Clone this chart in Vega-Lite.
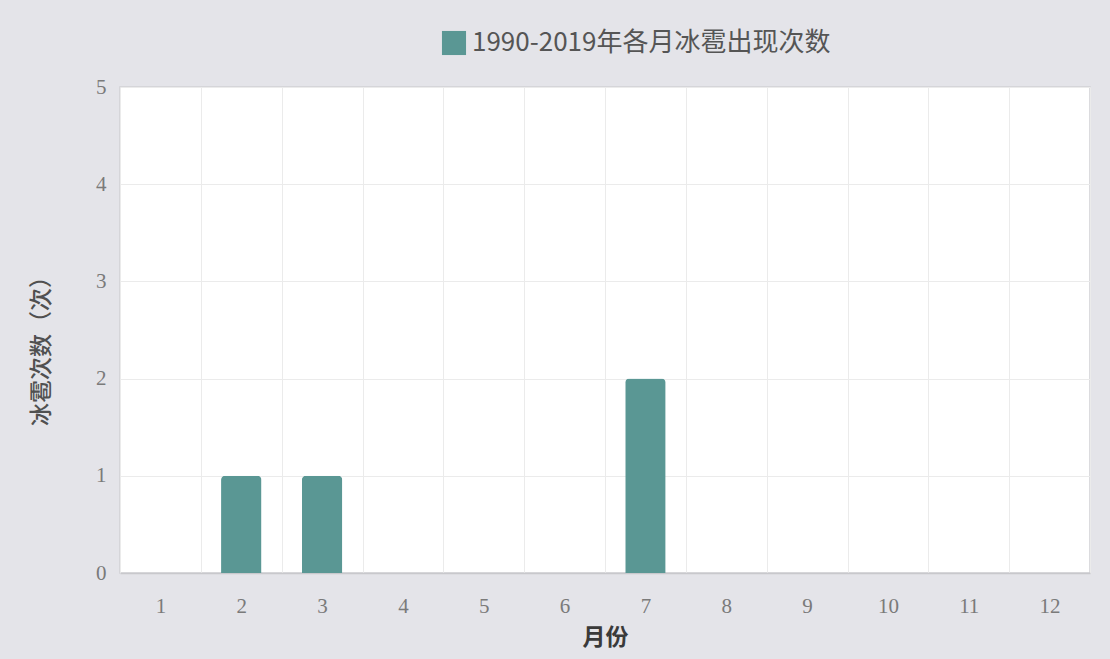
{
  "$schema": "https://vega.github.io/schema/vega-lite/v6.json",
  "autosize": {"type": "none"},
  "width": 970,
  "height": 486,
  "padding": {"left": 120, "top": 87, "right": 20, "bottom": 86},
  "background": "#e4e4e9",
  "config": {
    "view": {"fill": "#ffffff", "stroke": "#d0d0d4", "strokeWidth": 1.5},
    "font": "Noto Sans CJK SC"
  },
  "data": {
    "values": [
      {"month": "1", "count": 0, "series": "1990-2019年各月冰雹出现次数"},
      {"month": "2", "count": 1, "series": "1990-2019年各月冰雹出现次数"},
      {"month": "3", "count": 1, "series": "1990-2019年各月冰雹出现次数"},
      {"month": "4", "count": 0, "series": "1990-2019年各月冰雹出现次数"},
      {"month": "5", "count": 0, "series": "1990-2019年各月冰雹出现次数"},
      {"month": "6", "count": 0, "series": "1990-2019年各月冰雹出现次数"},
      {"month": "7", "count": 2, "series": "1990-2019年各月冰雹出现次数"},
      {"month": "8", "count": 0, "series": "1990-2019年各月冰雹出现次数"},
      {"month": "9", "count": 0, "series": "1990-2019年各月冰雹出现次数"},
      {"month": "10", "count": 0, "series": "1990-2019年各月冰雹出现次数"},
      {"month": "11", "count": 0, "series": "1990-2019年各月冰雹出现次数"},
      {"month": "12", "count": 0, "series": "1990-2019年各月冰雹出现次数"}
    ]
  },
  "mark": {"type": "bar", "width": {"band": 0.5}, "cornerRadiusTopLeft": 4, "cornerRadiusTopRight": 4},
  "encoding": {
    "x": {
      "field": "month",
      "type": "ordinal",
      "sort": null,
      "scale": {"paddingInner": 0, "paddingOuter": 0},
      "axis": {
        "title": "月份",
        "titleFont": "Noto Sans CJK SC",
        "titleFontSize": 23,
        "titleFontWeight": "bold",
        "titleColor": "#3a3a3a",
        "titlePadding": 10,
        "labelAngle": 0,
        "labelFont": "Liberation Serif",
        "labelFontSize": 21,
        "labelColor": "#7a7a7a",
        "labelPadding": 22,
        "ticks": false,
        "tickBand": "extent",
        "grid": true,
        "gridColor": "#ebebeb",
        "gridWidth": 1,
        "domain": true,
        "domainColor": "#c8c8cc",
        "domainWidth": 1.5
      }
    },
    "y": {
      "field": "count",
      "type": "quantitative",
      "scale": {"domain": [0, 5], "nice": false},
      "axis": {
        "title": "冰雹次数（次）",
        "titleFont": "Noto Sans CJK SC",
        "titleFontSize": 23,
        "titleFontWeight": 500,
        "titleColor": "#505050",
        "titlePadding": 42,
        "titleY": 258,
        "values": [0, 1, 2, 3, 4, 5],
        "labelFont": "Liberation Serif",
        "labelFontSize": 21,
        "labelColor": "#7a7a7a",
        "labelPadding": 14,
        "ticks": false,
        "domain": false,
        "grid": true,
        "gridColor": "#ebebeb",
        "gridWidth": 1
      }
    },
    "color": {
      "field": "series",
      "type": "nominal",
      "scale": {"range": ["#5a9794"]},
      "legend": {
        "title": null,
        "orient": "none",
        "legendX": 321,
        "legendY": -57,
        "symbolType": "square",
        "symbolSize": 580,
        "symbolStrokeWidth": 0,
        "labelFont": "Noto Sans CJK SC",
        "labelFontSize": 26,
        "labelColor": "#555555",
        "labelOffset": 5,
        "labelLimit": 600
      }
    }
  }
}
